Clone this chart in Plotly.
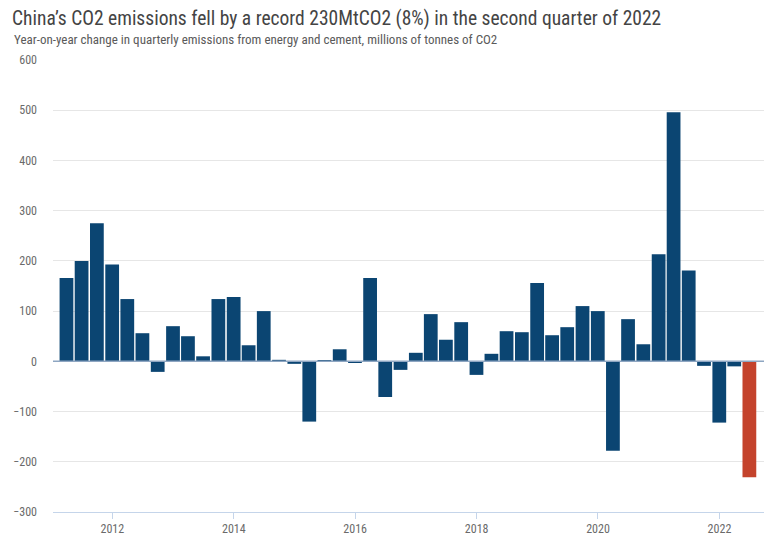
import plotly.graph_objects as go

# Quarter-end dates, Q1 2011 .. Q2 2022
quarters = [f"{y}-{md}" for y in range(2011, 2023) for md in ["03-31", "06-30", "09-30", "12-31"]][:46]

values = [166, 200, 275, 193, 124, 56, -21, 70, 50, 10,
          124, 128, 32, 100, 3, -5, -120, 2, 24, -3,
          166, -71, -17, 17, 94, 43, 78, -27, 15, 60,
          58, 156, 52, 68, 110, 100, -178, 84, 34, 213,
          496, 181, -9, -122, -10, -231]

blue = "#0b4572"
red = "#c4432c"
colors = [blue] * (len(values) - 1) + [red]

y_ticks = [-300, -200, -100, 0, 100, 200, 300, 400, 500, 600]

font_family = "Liberation Sans Narrow, Roboto Condensed, Roboto, sans-serif"

fig = go.Figure()
fig.add_trace(go.Bar(x=quarters, y=values, marker=dict(color=colors, line=dict(width=0)),
                     hoverinfo="x+y"))

fig.update_layout(
    width=775, height=552,
    margin=dict(l=53, r=11, t=60, b=40),
    paper_bgcolor="white", plot_bgcolor="white",
    bargap=0.08,
    showlegend=False,
    font=dict(family=font_family, color="#666666", size=11),
    title=dict(
        text="China’s CO2 emissions fell by a record 230MtCO2 (8%) in the second quarter of 2022",
        x=12/775, xanchor="left", y=1-18/552, yanchor="middle",
        font=dict(family=font_family, size=19.5, color="#444444"),
    ),
    annotations=[dict(
        text="Year-on-year change in quarterly emissions from energy and cement, millions of tonnes of CO2",
        xref="paper", yref="paper", x=-41/711, y=1+20/452, xanchor="left", yanchor="middle",
        showarrow=False, font=dict(family=font_family, size=13, color="#5a5a5a"),
    )],
    shapes=[dict(type="line", xref="paper", yref="y", x0=0, x1=1, y0=0, y1=0,
                 line=dict(color="#8ea6c2", width=1.5), layer="above")],
)

fig.update_xaxes(
    type="date",
    range=["2011-01-09", "2022-09-26"],
    tickvals=["2012-01-01", "2014-01-01", "2016-01-01", "2018-01-01", "2020-01-01", "2022-01-01"],
    ticktext=["2012", "2014", "2016", "2018", "2020", "2022"],
    showgrid=False,
    showline=True, linecolor="#c5d5ea", linewidth=1,
    ticks="outside", ticklen=6, tickcolor="#c5d5ea",
    tickfont=dict(size=12, color="#6a6a6a"),
    zeroline=False, automargin=False,
)
fig.update_yaxes(
    range=[-300, 600],
    tickvals=y_ticks,
    showgrid=True, gridcolor="#e6e6e6", gridwidth=1,
    zeroline=False, automargin=False,
    ticks="", ticklabelstandoff=15,
    tickfont=dict(size=12, color="#6a6a6a"),
)

fig.write_html("out.html", config={"displayModeBar": False},
               post_script="document.body.style.margin='0';window.dispatchEvent(new Event('resize'));")
